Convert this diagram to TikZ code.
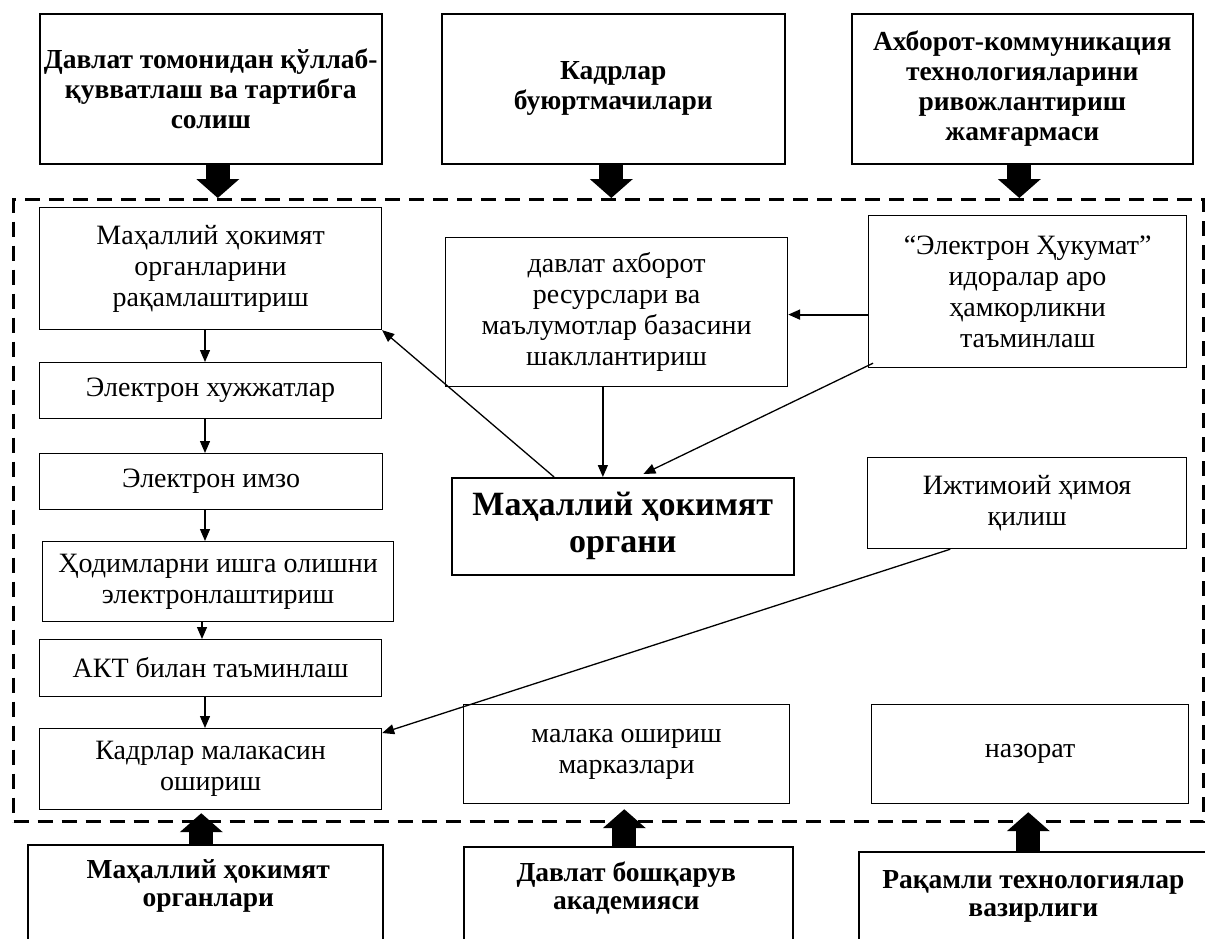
\documentclass[tikz,border=0pt]{standalone}
\usepackage{fontspec}
\setmainfont{Liberation Serif}
\usetikzlibrary{arrows.meta,calc}
\begin{document}
\begin{tikzpicture}[x=1pt,y=-1pt,
  box/.style={draw, line width=1.2pt, align=center, inner sep=0pt, anchor=north west,
    font=\fontsize{28}{31}\selectfont},
  topbox/.style={draw, line width=1.6pt, align=center, inner sep=0pt, anchor=north west,
    font=\fontsize{27.5}{30}\selectfont\bfseries},
  boldtext/.style={align=center, inner sep=0pt, font=\fontsize{27.5}{28}\selectfont\bfseries},
  orgbox/.style={draw, line width=1.6pt, align=center, inner sep=0pt, anchor=north west,
    font=\fontsize{34}{37}\selectfont\bfseries},
  frame/.style={draw, line width=3pt, dash pattern=on 15pt off 9pt, inner sep=0pt, anchor=north west},
  arr/.style={line width=1.3pt, -{Triangle[length=12pt,width=10pt]}},
  bigarr/.style={line width=24pt, -{Triangle[length=19pt,width=42pt]}},
]
\useasboundingbox (0,0) rectangle (1205,938);
\fill[white] (0,0) rectangle (1205,938);

% dashed frame
\node[frame, minimum width=1190pt, minimum height=622pt] (fr) at (12,198) {};

% top boxes
\node[topbox, minimum width=342pt, minimum height=150pt] (t1) at (39,13)
  {Давлат томонидан қўллаб-\\қувватлаш ва тартибга\\солиш};
\node[topbox, minimum width=343pt, minimum height=150pt] (t2) at (441,13)
  {Кадрлар\\буюртмачилари};
\node[topbox, minimum width=341pt, minimum height=150pt] (t3) at (851,13)
  {Ахборот-коммуникация\\технологияларини\\ривожлантириш\\жамғармаси};

% left column
\node[box, minimum width=342pt, minimum height=122pt] (l1) at (39,207)
  {Маҳаллий ҳокимят\\органларини\\рақамлаштириш};
\node[box, minimum width=342pt, minimum height=56pt] (l2) at (39,362)
  {Электрон хужжатлар};
\node[box, minimum width=343pt, minimum height=56pt] (l3) at (39,453)
  {Электрон имзо};
\node[box, minimum width=351pt, minimum height=80pt] (l4) at (42,541)
  {Ҳодимларни ишга олишни\\электронлаштириш};
\node[box, minimum width=342pt, minimum height=57pt] (l5) at (39,639)
  {АКТ билан таъминлаш};
\node[box, minimum width=342pt, minimum height=81pt] (l6) at (39,728)
  {Кадрлар малакасин\\ошириш};

% middle
\node[box, minimum width=342pt, minimum height=149pt] (dav) at (445,237)
  {давлат ахборот\\ресурслари ва\\маълумотлар базасини\\шакллантириш};
\node[orgbox, minimum width=342pt, minimum height=97pt] (org) at (451,477)
  {Маҳаллий ҳокимят\\органи};
\node[box, minimum width=326pt, minimum height=99pt] (mal) at (463,704)
  {малака ошириш\\марказлари};

% right
\node[box, minimum width=318pt, minimum height=152pt] (eh) at (868,215)
  {“Электрон Ҳукумат”\\идоралар аро\\ҳамкорликни\\таъминлаш};
\node[box, minimum width=319pt, minimum height=91pt] (ij) at (867,457)
  {Ижтимоий ҳимоя\\қилиш};
\node[box, minimum width=317pt, minimum height=99pt] (naz) at (871,704)
  {назорат};

% bottom boxes (cut by the page edge)
\node[draw, line width=1.6pt, inner sep=0pt, anchor=north west, minimum width=355pt, minimum height=130pt] (b1) at (27,844) {};
\node[draw, line width=1.6pt, inner sep=0pt, anchor=north west, minimum width=329pt, minimum height=130pt] (b2) at (463,846) {};
\node[draw, line width=1.6pt, inner sep=0pt, anchor=north west, minimum width=349pt, minimum height=130pt] (b3) at (858,851) {};
\node[boldtext] (b1t) at ($(b1.north)+(3,42)$) {Маҳаллий ҳокимят\\органлари};
\node[boldtext] (b2t) at ($(b2.north)+(-2,42)$) {Давлат бошқарув\\академияси};
\node[boldtext] (b3t) at ($(b3.north)+(0,45)$) {Рақамли технологиялар\\вазирлиги};

% big arrows
\draw[bigarr] ([xshift=7pt]t1.south) -- ([xshift=7pt]t1.south |- fr.north);
\draw[bigarr] ([xshift=-2pt]t2.south) -- ([xshift=-2pt]t2.south |- fr.north);
\draw[bigarr] ([xshift=-3pt]t3.south) -- ([xshift=-3pt]t3.south |- fr.north);
\draw[bigarr] ([xshift=-4pt]b1.north) -- ([xshift=-4pt,yshift=-3pt]b1.north |- l6.south);
\draw[bigarr] ([xshift=-4pt]b2.north) -- ([xshift=-4pt,yshift=-5pt]b2.north |- mal.south);
\draw[bigarr] ([xshift=-5pt]b3.north) -- ([xshift=-5pt,yshift=-8pt]b3.north |- naz.south);

% column arrows
\coordinate (cx) at (205,0);
\draw[arr] (l1.south -| cx) -- (l2.north -| cx);
\draw[arr] (l2.south -| cx) -- (l3.north -| cx);
\draw[arr] (l3.south -| cx) -- (l4.north -| cx);
\draw[arr] ([xshift=-3pt]l4.south -| cx) -- ([xshift=-3pt]l5.north -| cx);
\draw[arr] (l5.south -| cx) -- (l6.north -| cx);

% thin connectors
\draw[arr] ($(org.north west)!0.30!(org.north east)$) -- (l1.south east);
\coordinate (dx) at ($(dav.south west)!0.46!(dav.south east)$);
\draw[arr] (dx) -- (dx |- org.north);
\draw[arr] ([xshift=5pt,yshift=5pt]eh.south west) -- ([yshift=3pt]$(org.north west)!0.56!(org.north east)$);
\coordinate (ey) at ($(eh.north west)!0.65!(eh.south west)$);
\draw[line width=2pt, -{Triangle[length=12pt,width=10pt]}] (ey) -- (ey -| dav.east);
\draw[arr] ($(ij.south west)!0.26!(ij.south east)$) -- ([yshift=-5pt]l6.north east);
\end{tikzpicture}
\end{document}
